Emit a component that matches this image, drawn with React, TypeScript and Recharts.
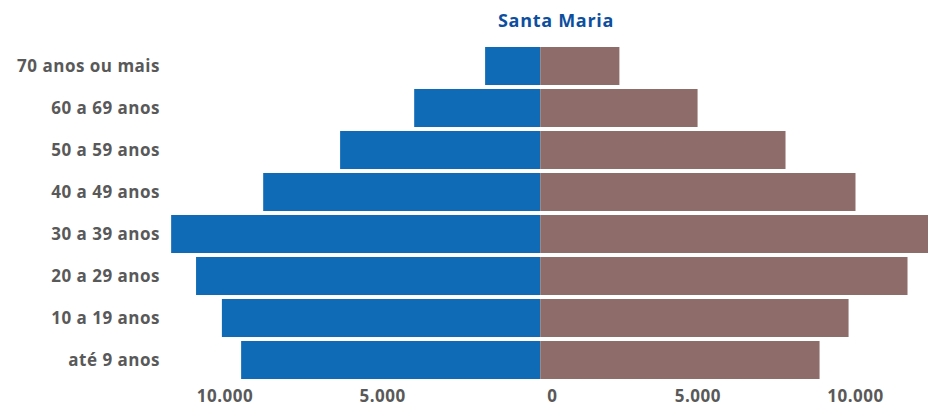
import React from 'react';
import { BarChart, Bar, XAxis, YAxis } from 'recharts';

const categories = [
  '70 anos ou mais',
  '60 a 69 anos',
  '50 a 59 anos',
  '40 a 49 anos',
  '30 a 39 anos',
  '20 a 29 anos',
  '10 a 19 anos',
  'até 9 anos',
];
const homens = [1750, 4000, 6350, 8790, 11710, 10920, 10100, 9490];
const mulheres = [2510, 4990, 7780, 10000, 12500, 11650, 9780, 8860];
const xTicks = [-10000, -5000, 0, 5000, 10000];
const title = 'Santa Maria';

const BLUE = '#0f6bb6';
const BROWN = '#8d6c69';
const GREY = '#595959';
const FONT = '"Open Sans", sans-serif';

const data = categories.map((c, i) => ({ faixa: c, homens: -homens[i], mulheres: mulheres[i] }));

const fmt = (v: number) => Math.abs(v).toLocaleString('pt-BR');

const XTick = (props: any) => {
  const { x, y, payload } = props;
  const dx = payload.value === 0 ? 12 : 0;
  return (
    <text x={x + dx} y={y + 19} textAnchor="middle" fill={GREY} fontFamily={FONT} fontWeight={700} fontSize={17} letterSpacing={0.5}>
      {fmt(payload.value)}
    </text>
  );
};

const YTick = (props: any) => {
  const { x, y, payload } = props;
  return (
    <text x={x} y={y + 6} textAnchor="end" fill={GREY} fontFamily={FONT} fontWeight={700} fontSize={17} letterSpacing={0.5}>
      {payload.value}
    </text>
  );
};

export default function App() {
  return (
    <div style={{ position: 'relative', width: 928, height: 411, background: '#fff' }}>
      <style>{`body{margin:0}`}</style>
      <div
        style={{
          position: 'absolute',
          left: 456,
          width: 200,
          top: 7,
          textAlign: 'center',
          fontFamily: FONT,
          fontWeight: 700,
          fontSize: 18,
          letterSpacing: 0.7,
          color: '#0d4f9e',
          lineHeight: '26px',
        }}
      >
        {title}
      </div>
      <BarChart
        width={928}
        height={411}
        data={data}
        layout="vertical"
        stackOffset="sign"
        barCategoryGap={2}
        margin={{ top: 45, right: 0, bottom: 0, left: 0 }}
      >
        <XAxis
          type="number"
          domain={[-12000, 12300]}
          allowDataOverflow
          ticks={xTicks}
          axisLine={false}
          tickLine={false}
          tickSize={0}
          height={30}
          tick={<XTick />}
        />
        <YAxis
          type="category"
          dataKey="faixa"
          width={162}
          axisLine={false}
          tickLine={false}
          tickSize={0}
          tickMargin={2}
          tick={<YTick />}
        />
        <Bar dataKey="homens" stackId="a" fill={BLUE} isAnimationActive={false} />
        <Bar dataKey="mulheres" stackId="a" fill={BROWN} isAnimationActive={false} />
      </BarChart>
    </div>
  );
}
